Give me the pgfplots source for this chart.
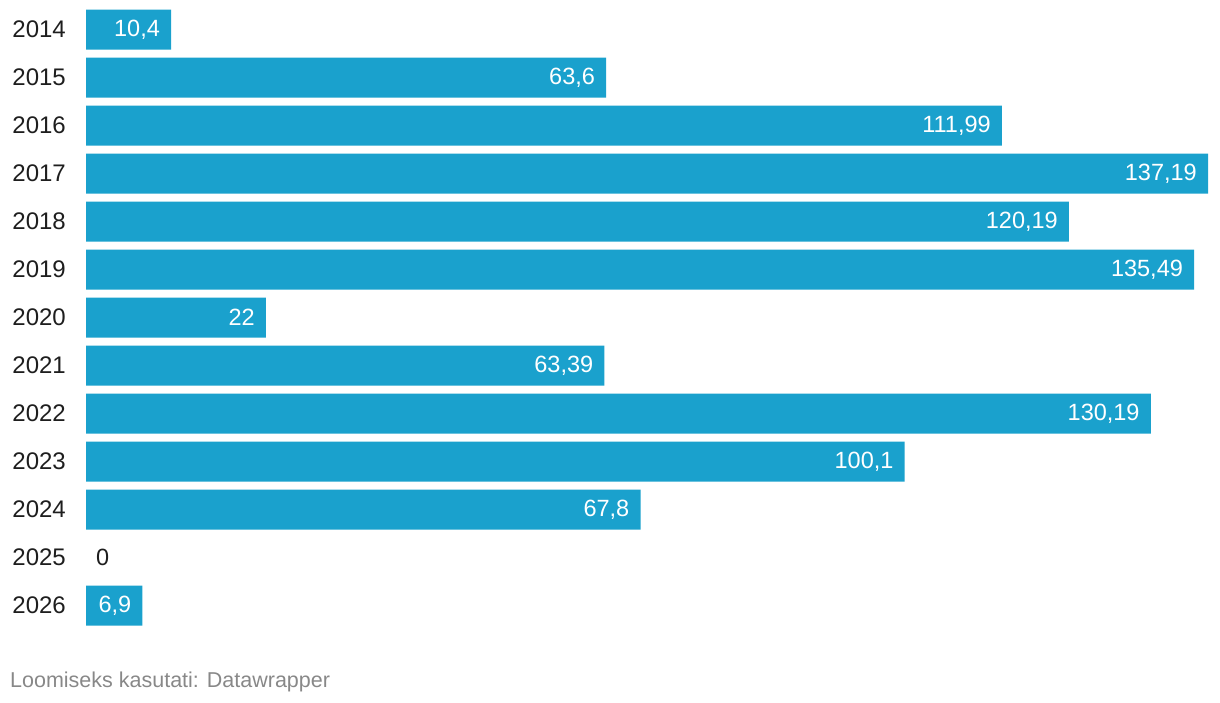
\documentclass[border=0pt]{standalone}
\usepackage{pgfplots}
\pgfplotsset{compat=1.18}
\usepackage{pgfplotstable}
\usepackage{fontspec}
\setmainfont{Liberation Sans}
\definecolor{barblue}{RGB}{26,161,205}
\definecolor{foot}{RGB}{136,136,136}
\definecolor{lab}{RGB}{30,30,30}
\pgfplotstableread{
year val lab
2014 10.4 10,4
2015 63.6 63,6
2016 111.99 111,99
2017 137.19 137,19
2018 120.19 120,19
2019 135.49 135,49
2020 22 22
2021 63.39 63,39
2022 130.19 130,19
2023 100.1 100,1
2024 67.8 67,8
2026 6.9 6,9
}\datatable
\pgfplotstableread{
year val lab
2025 0 0
}\zerotable
\begin{document}
\begin{tikzpicture}[x=1pt,y=1pt]
\useasboundingbox (0,0) rectangle (1220,702);
\begin{axis}[
  at={(86pt,72.5pt)}, anchor=south west,
  scale only axis, width=1122pt, height=624pt,
  xmin=0, xmax=137.19,
  ymin=2013.5, ymax=2026.5, y dir=reverse,
  axis line style={draw=none},
  xtick=\empty,
  ytick={2014,2015,2016,2017,2018,2019,2020,2021,2022,2023,2024,2025,2026},
  yticklabels={2014,2015,2016,2017,2018,2019,2020,2021,2022,2023,2024,2025,2026},
  major tick length=0pt,
  yticklabel style={font=\fontsize{24}{28}\selectfont, text=lab, anchor=east, inner sep=0pt, xshift=-20pt},
  /pgf/number format/assume math mode=true,
  clip=false,
]
\addplot[xbar, bar width=40pt, bar shift=0pt, fill=barblue, draw=none,
  point meta=explicit symbolic,
  nodes near coords={\pgfplotspointmeta},
  every node near coord/.append style={anchor=east, inner sep=0pt, xshift=-11pt, text=white, font=\fontsize{23.5}{28}\selectfont}]
  table[x=val, y=year, meta=lab] {\datatable};
\addplot[xbar, bar width=40pt, bar shift=0pt, fill=none, draw=none,
  point meta=explicit symbolic,
  nodes near coords={\pgfplotspointmeta},
  every node near coord/.append style={anchor=west, inner sep=0pt, xshift=10pt, text=lab, font=\fontsize{23.5}{28}\selectfont}]
  table[x=val, y=year, meta=lab] {\zerotable};
\end{axis}
\node[anchor=base west, inner sep=0pt, text=foot, font=\fontsize{21.5}{26}\selectfont] at (10,15) {Loomiseks kasutati: Datawrapper};
\end{tikzpicture}
\end{document}
